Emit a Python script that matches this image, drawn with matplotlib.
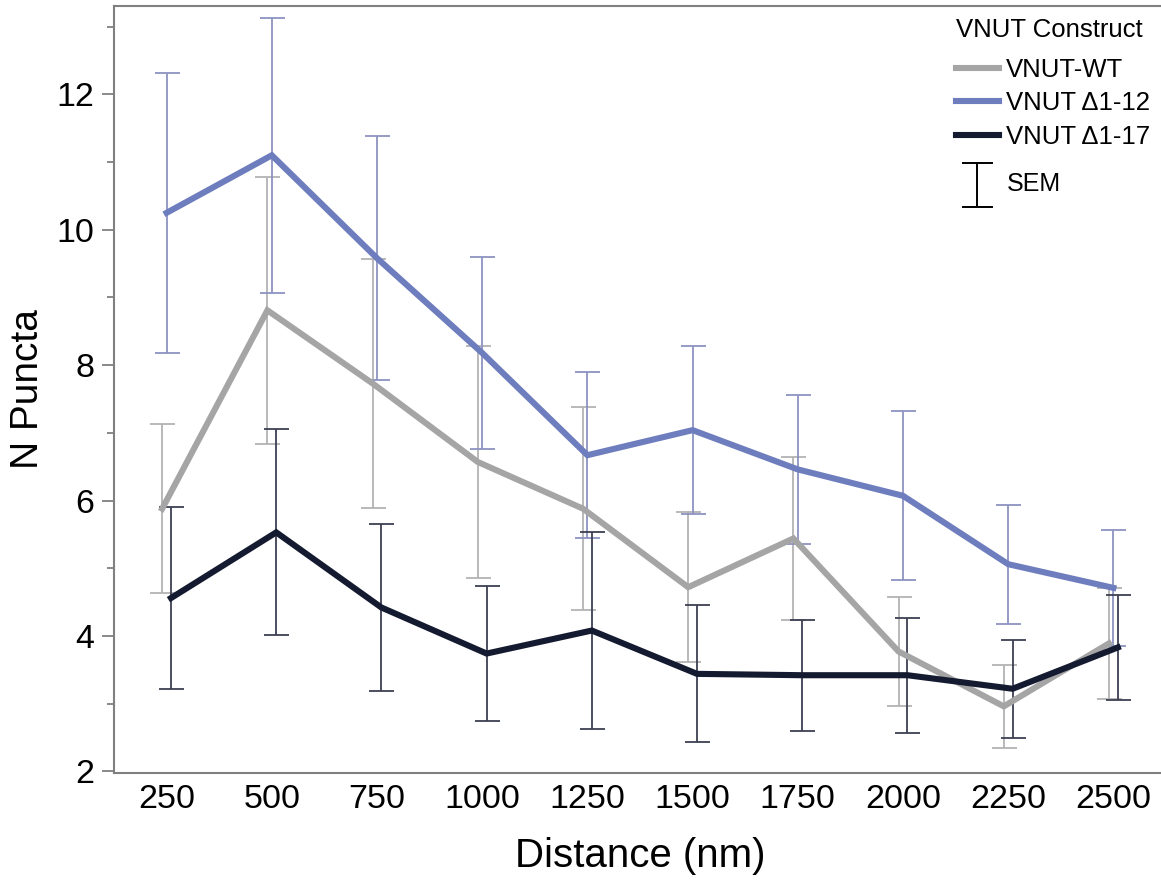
import numpy as np
import matplotlib.pyplot as plt

plt.rcParams['font.family'] = ['Liberation Sans', 'DejaVu Sans']

# distance bins (nm) and mean puncta counts +/- SEM per construct
distance = [250, 500, 750, 1000, 1250, 1500, 1750, 2000, 2250, 2500]

wt_mean = [5.88, 8.81, 7.73, 6.57, 5.88, 4.72, 5.44, 3.77, 2.96, 3.89]
wt_sem = [1.25, 1.97, 1.84, 1.72, 1.50, 1.11, 1.21, 0.81, 0.61, 0.82]

d12_mean = [10.25, 11.10, 9.58, 8.18, 6.67, 7.04, 6.46, 6.07, 5.06, 4.71]
d12_sem = [2.07, 2.03, 1.80, 1.42, 1.23, 1.24, 1.10, 1.25, 0.88, 0.86]

d17_mean = [4.56, 5.53, 4.42, 3.74, 4.08, 3.44, 3.42, 3.42, 3.22, 3.83]
d17_sem = [1.35, 1.52, 1.23, 1.00, 1.45, 1.01, 0.82, 0.85, 0.72, 0.78]

series = [
    ('VNUT-WT', wt_mean, wt_sem, '#a5a5a5', '#b3b3b3', -0.042),
    ('VNUT Δ1-12', d12_mean, d12_sem, '#6e7dbd', '#8c93c2', 0.0),
    ('VNUT Δ1-17', d17_mean, d17_sem, '#141a30', '#3c4052', 0.042),
]

fig = plt.figure(figsize=(11.61, 8.84), dpi=100)
ax = fig.add_axes([0.0982, 0.1259, 0.9061, 0.8677])

x = np.arange(len(distance))
handles = []
for label, mean, sem, color, ecolor, shift in series:
    ax.errorbar(x + shift, mean, yerr=sem, fmt='none', ecolor=ecolor,
                elinewidth=1.3, capsize=9, capthick=1.3, zorder=2)
    h, = ax.plot(x + shift, mean, color=color, lw=4.4, label=label,
                 solid_joinstyle='miter', zorder=3)
    handles.append(h)

ax.set_xlim(-0.5, 9.5)
ax.set_ylim(1.98, 13.31)
ax.set_xticks(x)
ax.set_xticklabels([str(d) for d in distance])
ax.set_yticks([2, 4, 6, 8, 10, 12])
ax.set_yticks([3, 5, 7, 9, 11, 13], minor=True)

ax.tick_params(axis='x', length=0, labelsize=24.5, pad=8)
ax.tick_params(axis='y', which='major', length=9, width=1.3, color='#808080',
               labelsize=24.5, pad=5)
ax.tick_params(axis='y', which='minor', length=5, width=1.3, color='#808080')
for side in ['left', 'bottom', 'top', 'right']:
    ax.spines[side].set_color('#808080')
    ax.spines[side].set_linewidth(1.5)

ax.set_xlabel('Distance (nm)', fontsize=29, labelpad=16)
ax.set_ylabel('N Puncta', fontsize=28, labelpad=8)

# legend: title drawn as its own text so the gap under it can be set
ax.text(0.8004, 0.968, 'VNUT Construct', fontsize=18.5, ha='left',
        va='center', transform=ax.transAxes)
ax.legend(handles=handles, loc='upper left', bbox_to_anchor=(0.8004, 0.932),
          frameon=False, fontsize=18.5, handlelength=1.68,
          handletextpad=0.27, labelspacing=0.37, borderpad=0,
          borderaxespad=0)

# SEM key below the legend
ax.plot([0.8203, 0.8203], [0.7376, 0.795], color='black', lw=1.4,
        transform=ax.transAxes, clip_on=False)
for yk in (0.7376, 0.795):
    ax.plot([0.8070, 0.8346], [yk, yk], color='black', lw=1.4,
            transform=ax.transAxes, clip_on=False)
ax.text(0.8485, 0.7669, 'SEM', fontsize=18, va='center', ha='left',
        transform=ax.transAxes)

fig.savefig('out.png', dpi=100)
